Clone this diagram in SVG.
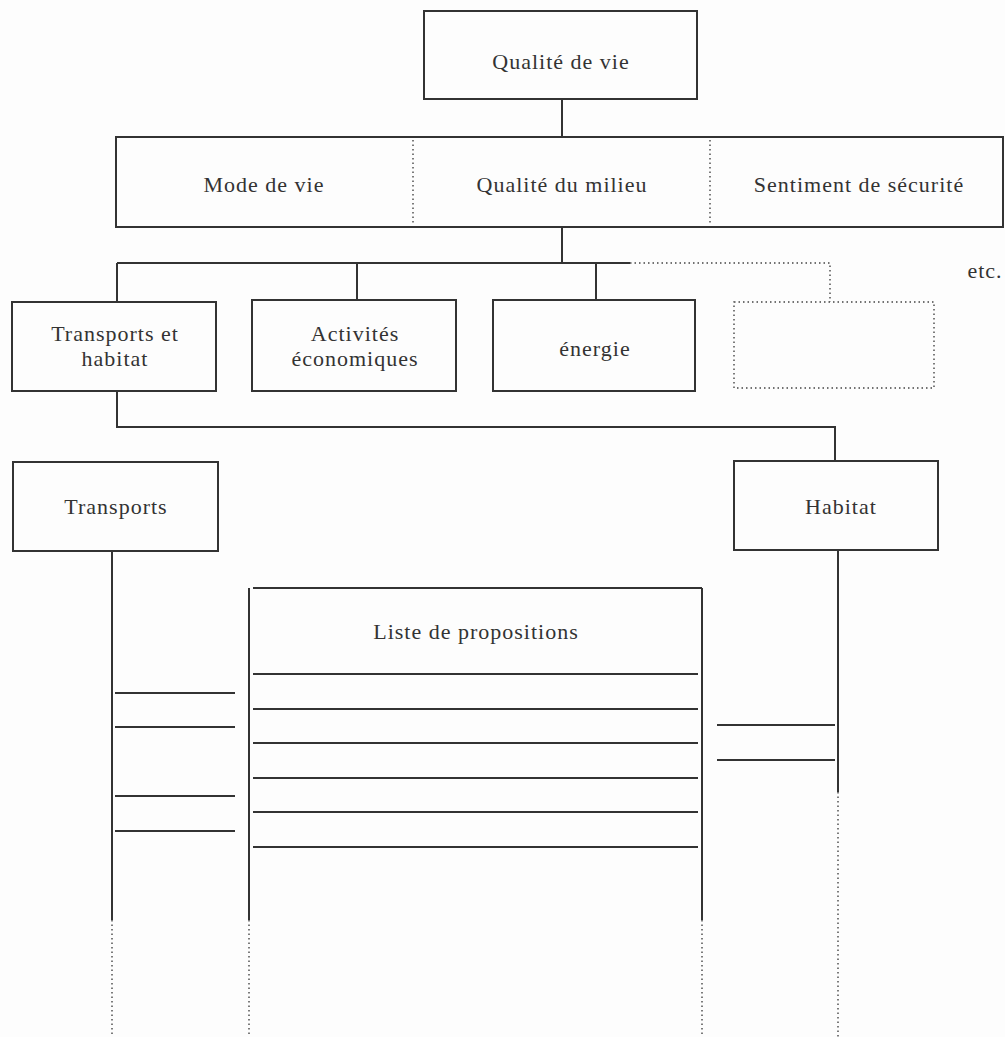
<svg xmlns="http://www.w3.org/2000/svg" width="1005" height="1037" viewBox="0 0 1005 1037">
<style>
.box{fill:none;stroke:#333;stroke-width:2}
.ln{fill:none;stroke:#333;stroke-width:2}
.dot{fill:none;stroke:#444;stroke-width:1.4;stroke-dasharray:1.5 3}
.t{font-family:"Liberation Serif","Times New Roman",serif;font-size:22px;fill:#333;letter-spacing:1px;text-anchor:middle}
</style>
<rect width="1005" height="1037" fill="#fdfdfd"/>
<g id="connectors">
<path class="ln" d="M562 99V137"/>
<path class="ln" d="M562 227V263M117 263H630M117 263V302M357 263V300M596 263V300"/>
<path class="dot" d="M630 263H830V302"/>
<path class="ln" d="M117 391V427H835V461"/>
<path class="ln" d="M112 551V920"/>
<path class="dot" d="M112 920V1037"/>
<path class="ln" d="M838 550V792"/>
<path class="dot" d="M838 792V1037"/>
<path class="ln" d="M115 693H235M115 727H235M115 796H235M115 831H235"/>
<path class="ln" d="M717 725H835M717 760H835"/>
</g>
<g id="n_qualite_de_vie">
<rect class="box" x="424" y="11" width="273" height="88"/>
<text class="t" x="561" y="69">Qualité de vie</text>
</g>
<g id="n_domaines">
<rect class="box" x="116" y="137" width="887" height="90"/>
<path class="dot" d="M413 140V224M710 140V224"/>
<text class="t" x="264" y="192">Mode de vie</text>
<text class="t" x="562" y="192">Qualité du milieu</text>
<text class="t" x="859" y="192">Sentiment de sécurité</text>
</g>
<g id="n_transports_habitat">
<rect class="box" x="12" y="302" width="204" height="89"/>
<text class="t" x="115" y="341">Transports et</text>
<text class="t" x="115" y="366">habitat</text>
</g>
<g id="n_activites">
<rect class="box" x="252" y="300" width="204" height="91"/>
<text class="t" x="355" y="341">Activités</text>
<text class="t" x="355" y="366">économiques</text>
</g>
<g id="n_energie">
<rect class="box" x="493" y="300" width="202" height="91"/>
<text class="t" x="595" y="356">énergie</text>
</g>
<g id="n_vide">
<rect class="dot" x="734" y="302" width="200" height="86"/>
</g>
<g id="n_etc">
<text class="t" x="985" y="278">etc.</text>
</g>
<g id="n_transports">
<rect class="box" x="13" y="462" width="205" height="89"/>
<text class="t" x="116" y="514">Transports</text>
</g>
<g id="n_habitat">
<rect class="box" x="734" y="461" width="204" height="89"/>
<text class="t" x="841" y="514">Habitat</text>
</g>
<g id="n_liste">
<path class="ln" d="M249 588V920M253 588H702M702 588V920"/>
<path class="dot" d="M249 920V1037M702 920V1037"/>
<text class="t" x="476" y="639">Liste de propositions</text>
<path class="ln" d="M253 674H698M253 709H698M253 743H698M253 778H698M253 812H698M253 847H698"/>
</g>
</svg>
